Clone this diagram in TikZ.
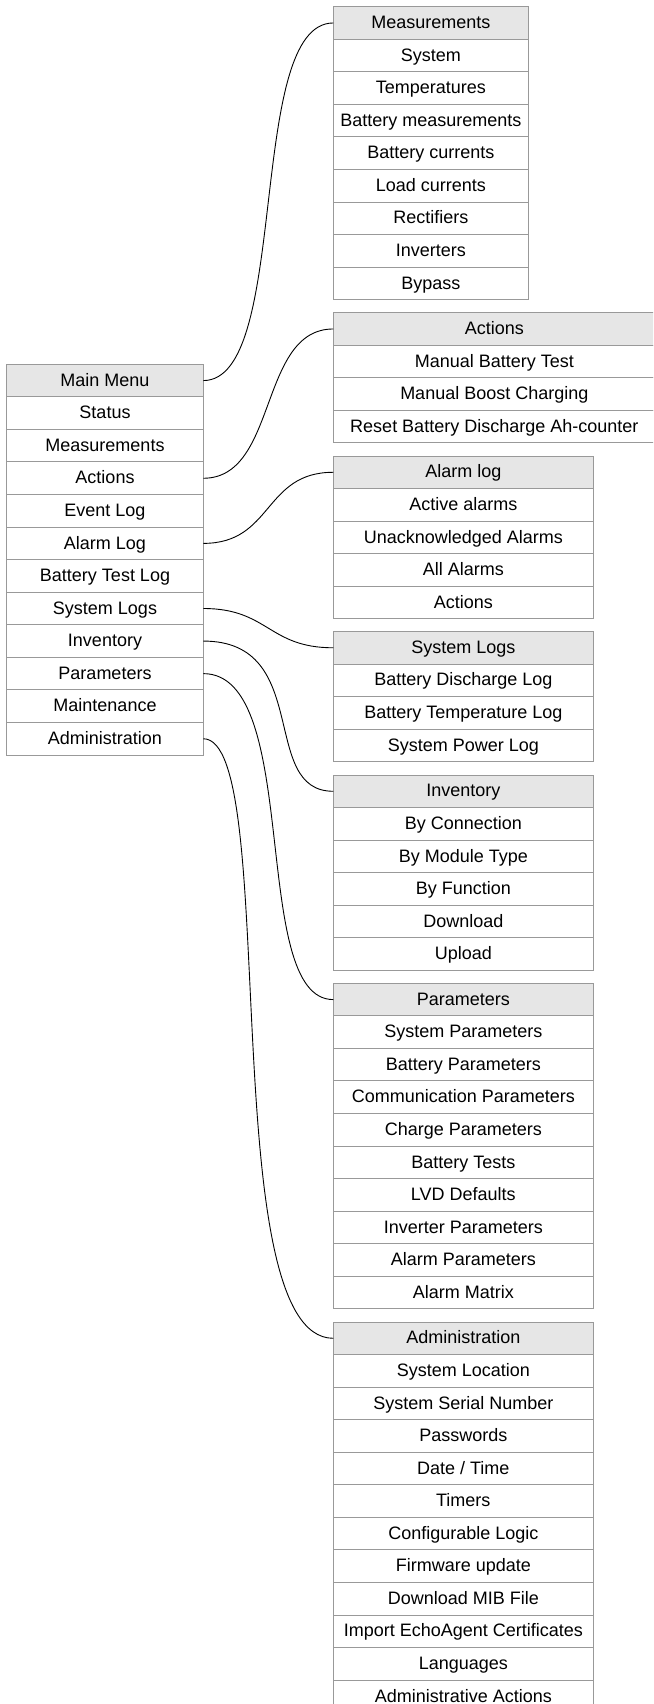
\documentclass[tikz,border=0pt]{standalone}
\usepackage{fontspec}
\setmainfont{Liberation Sans}
\definecolor{bordergray}{HTML}{999999}
\definecolor{hdrfill}{HTML}{E6E6E6}
\tikzset{
  cell/.style={draw=bordergray, line width=1pt, rectangle, inner sep=0pt, outer sep=0pt,
    minimum height=32.56pt, text height=12.9pt, text depth=1.6pt,
    font=\fontsize{18}{21}\selectfont, text=black},
  hdr/.style={cell, fill=hdrfill},
  itm/.style={cell, fill=white},
  conn/.style={draw=black, line width=0.9pt},
}
\newcommand\drawmenu[6]{%
  \node[hdr, minimum width=#4, anchor=north west] (#1-0) at (#2,#3) {#5};
  \foreach \t [count=\i, remember=\i as \j (initially 0)] in {#6} {
    \node[itm, minimum width=#4, anchor=north] (#1-\i) at (#1-\j.south) {\t};
  }%
}
\begin{document}
\begin{tikzpicture}[x=1pt, y=-1pt]
\useasboundingbox (0,0) rectangle (653,1704);
\clip (0,0) rectangle (653,1704);
\fill[white] (0,0) rectangle (653,1704);

\drawmenu{mm}{6.7}{364.3}{196.6pt}{Main Menu}{Status,Measurements,Actions,Event Log,Alarm Log,Battery Test Log,System Logs,Inventory,Parameters,Maintenance,Administration}

\drawmenu{meas}{333.3}{6.7}{195pt}{Measurements}{System,Temperatures,Battery measurements,Battery currents,Load currents,Rectifiers,Inverters,Bypass}

\drawmenu{act}{333.3}{312.7}{322pt}{Actions}{Manual Battery Test,Manual Boost Charging,Reset Battery Discharge Ah-counter}

\drawmenu{alarm}{333.3}{456}{260pt}{Alarm log}{Active alarms,Unacknowledged Alarms,All Alarms,Actions}

\drawmenu{syslog}{333.3}{631.5}{260pt}{System Logs}{Battery Discharge Log,Battery Temperature Log,System Power Log}

\drawmenu{inv}{333.3}{775}{260pt}{Inventory}{By Connection,By Module Type,By Function,Download,Upload}

\drawmenu{par}{333.3}{983.3}{260pt}{Parameters}{System Parameters,Battery Parameters,Communication Parameters,Charge Parameters,Battery Tests,LVD Defaults,Inverter Parameters,Alarm Parameters,Alarm Matrix}

\drawmenu{adm}{333.3}{1322}{260pt}{Administration}{System Location,System Serial Number,Passwords,Date / Time,Timers,Configurable Logic,Firmware update,Download MIB File,Import EchoAgent Certificates,Languages,Administrative Actions}

\draw[conn] (mm-0.east) .. controls +(88,0) and +(-88,0) .. (meas-0.west);
\draw[conn] (mm-3.east) .. controls +(75,0) and +(-75,0) .. (act-0.west);
\draw[conn] (mm-5.east) .. controls +(70,0) and +(-70,0) .. (alarm-0.west);
\draw[conn] (mm-7.east) .. controls +(65,0) and +(-65,0) .. (syslog-0.west);
\draw[conn] (mm-8.east) .. controls +(110,0) and +(-75,0) .. (inv-0.west);
\draw[conn] (mm-9.east) .. controls +(100,0) and +(-85,0) .. (par-0.west);
\draw[conn] (mm-11.east) .. controls +(78,0) and +(-120,0) .. (adm-0.west);
\end{tikzpicture}
\end{document}
